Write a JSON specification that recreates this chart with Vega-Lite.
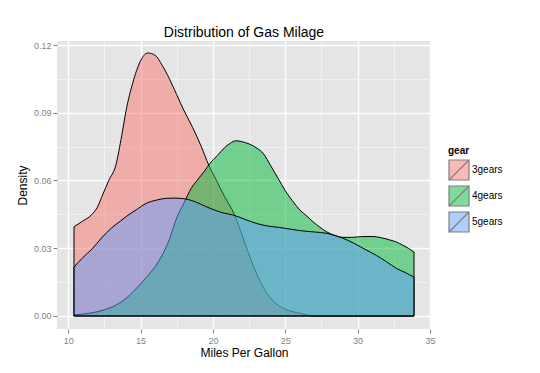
{
  "$schema": "https://vega.github.io/schema/vega-lite/v6.json",
  "autosize": {"type": "none"},
  "padding": {"left": 57, "top": 41, "right": 109, "bottom": 44},
  "width": 374,
  "height": 288,
  "title": {"text": "Distribution of Gas Milage", "fontSize": 14, "fontWeight": "normal", "color": "#000000", "anchor": "middle", "frame": "group", "offset": 1},
  "data": {"values": [
    {"gear": "3gears", "mpg": 10.4, "density": 0.0395},
    {"gear": "3gears", "mpg": 11.0, "density": 0.042},
    {"gear": "3gears", "mpg": 11.6, "density": 0.0447},
    {"gear": "3gears", "mpg": 12.0, "density": 0.048},
    {"gear": "3gears", "mpg": 12.4, "density": 0.054},
    {"gear": "3gears", "mpg": 12.8, "density": 0.060},
    {"gear": "3gears", "mpg": 13.3, "density": 0.067},
    {"gear": "3gears", "mpg": 13.7, "density": 0.080},
    {"gear": "3gears", "mpg": 14.0, "density": 0.091},
    {"gear": "3gears", "mpg": 14.45, "density": 0.103},
    {"gear": "3gears", "mpg": 15.0, "density": 0.113},
    {"gear": "3gears", "mpg": 15.5, "density": 0.1165},
    {"gear": "3gears", "mpg": 16.0, "density": 0.1155},
    {"gear": "3gears", "mpg": 16.5, "density": 0.111},
    {"gear": "3gears", "mpg": 17.0, "density": 0.105},
    {"gear": "3gears", "mpg": 17.5, "density": 0.098},
    {"gear": "3gears", "mpg": 18.0, "density": 0.091},
    {"gear": "3gears", "mpg": 18.6, "density": 0.0835},
    {"gear": "3gears", "mpg": 19.2, "density": 0.075},
    {"gear": "3gears", "mpg": 19.7, "density": 0.067},
    {"gear": "3gears", "mpg": 20.25, "density": 0.060},
    {"gear": "3gears", "mpg": 20.8, "density": 0.053},
    {"gear": "3gears", "mpg": 21.5, "density": 0.0447},
    {"gear": "3gears", "mpg": 21.9, "density": 0.038},
    {"gear": "3gears", "mpg": 22.3, "density": 0.0307},
    {"gear": "3gears", "mpg": 22.65, "density": 0.0245},
    {"gear": "3gears", "mpg": 23.0, "density": 0.019},
    {"gear": "3gears", "mpg": 23.45, "density": 0.013},
    {"gear": "3gears", "mpg": 23.9, "density": 0.0085},
    {"gear": "3gears", "mpg": 24.5, "density": 0.0048},
    {"gear": "3gears", "mpg": 25.1, "density": 0.0027},
    {"gear": "3gears", "mpg": 26.0, "density": 0.0012},
    {"gear": "3gears", "mpg": 26.5, "density": 0.0004},
    {"gear": "3gears", "mpg": 27.0, "density": 0},
    {"gear": "3gears", "mpg": 30.0, "density": 0},
    {"gear": "3gears", "mpg": 33.9, "density": 0},
    {"gear": "4gears", "mpg": 10.4, "density": 0.0005},
    {"gear": "4gears", "mpg": 11.5, "density": 0.0012},
    {"gear": "4gears", "mpg": 12.5, "density": 0.0027},
    {"gear": "4gears", "mpg": 13.3, "density": 0.0048},
    {"gear": "4gears", "mpg": 14.0, "density": 0.0078},
    {"gear": "4gears", "mpg": 14.5, "density": 0.0108},
    {"gear": "4gears", "mpg": 15.0, "density": 0.0142},
    {"gear": "4gears", "mpg": 15.5, "density": 0.0178},
    {"gear": "4gears", "mpg": 16.0, "density": 0.0218},
    {"gear": "4gears", "mpg": 16.5, "density": 0.027},
    {"gear": "4gears", "mpg": 17.0, "density": 0.034},
    {"gear": "4gears", "mpg": 17.5, "density": 0.0435},
    {"gear": "4gears", "mpg": 18.0, "density": 0.050},
    {"gear": "4gears", "mpg": 18.5, "density": 0.0565},
    {"gear": "4gears", "mpg": 18.9, "density": 0.060},
    {"gear": "4gears", "mpg": 19.4, "density": 0.064},
    {"gear": "4gears", "mpg": 19.8, "density": 0.0676},
    {"gear": "4gears", "mpg": 20.3, "density": 0.071},
    {"gear": "4gears", "mpg": 20.8, "density": 0.0745},
    {"gear": "4gears", "mpg": 21.2, "density": 0.0765},
    {"gear": "4gears", "mpg": 21.6, "density": 0.0776},
    {"gear": "4gears", "mpg": 22.0, "density": 0.0772},
    {"gear": "4gears", "mpg": 22.5, "density": 0.0762},
    {"gear": "4gears", "mpg": 23.0, "density": 0.0745},
    {"gear": "4gears", "mpg": 23.5, "density": 0.0718},
    {"gear": "4gears", "mpg": 24.0, "density": 0.0665},
    {"gear": "4gears", "mpg": 24.5, "density": 0.061},
    {"gear": "4gears", "mpg": 25.0, "density": 0.0555},
    {"gear": "4gears", "mpg": 25.5, "density": 0.051},
    {"gear": "4gears", "mpg": 26.0, "density": 0.047},
    {"gear": "4gears", "mpg": 26.5, "density": 0.0442},
    {"gear": "4gears", "mpg": 26.9, "density": 0.0418},
    {"gear": "4gears", "mpg": 27.4, "density": 0.0393},
    {"gear": "4gears", "mpg": 27.85, "density": 0.0373},
    {"gear": "4gears", "mpg": 28.4, "density": 0.0357},
    {"gear": "4gears", "mpg": 29.0, "density": 0.0348},
    {"gear": "4gears", "mpg": 29.6, "density": 0.0348},
    {"gear": "4gears", "mpg": 30.2, "density": 0.0351},
    {"gear": "4gears", "mpg": 31.0, "density": 0.0352},
    {"gear": "4gears", "mpg": 31.6, "density": 0.0347},
    {"gear": "4gears", "mpg": 32.2, "density": 0.0337},
    {"gear": "4gears", "mpg": 32.7, "density": 0.0327},
    {"gear": "4gears", "mpg": 33.1, "density": 0.0314},
    {"gear": "4gears", "mpg": 33.5, "density": 0.0300},
    {"gear": "4gears", "mpg": 33.9, "density": 0.0283},
    {"gear": "5gears", "mpg": 10.4, "density": 0.0216},
    {"gear": "5gears", "mpg": 11.0, "density": 0.0258},
    {"gear": "5gears", "mpg": 11.7, "density": 0.030},
    {"gear": "5gears", "mpg": 12.3, "density": 0.0345},
    {"gear": "5gears", "mpg": 13.0, "density": 0.039},
    {"gear": "5gears", "mpg": 13.5, "density": 0.0415},
    {"gear": "5gears", "mpg": 14.0, "density": 0.044},
    {"gear": "5gears", "mpg": 14.7, "density": 0.047},
    {"gear": "5gears", "mpg": 15.4, "density": 0.0499},
    {"gear": "5gears", "mpg": 16.1, "density": 0.0513},
    {"gear": "5gears", "mpg": 16.8, "density": 0.0521},
    {"gear": "5gears", "mpg": 17.4, "density": 0.0522},
    {"gear": "5gears", "mpg": 18.2, "density": 0.0517},
    {"gear": "5gears", "mpg": 18.8, "density": 0.0505},
    {"gear": "5gears", "mpg": 19.5, "density": 0.0485},
    {"gear": "5gears", "mpg": 20.2, "density": 0.0467},
    {"gear": "5gears", "mpg": 20.8, "density": 0.0455},
    {"gear": "5gears", "mpg": 21.4, "density": 0.0447},
    {"gear": "5gears", "mpg": 22.2, "density": 0.0428},
    {"gear": "5gears", "mpg": 23.0, "density": 0.041},
    {"gear": "5gears", "mpg": 23.8, "density": 0.0398},
    {"gear": "5gears", "mpg": 24.6, "density": 0.0392},
    {"gear": "5gears", "mpg": 25.3, "density": 0.0385},
    {"gear": "5gears", "mpg": 26.0, "density": 0.0378},
    {"gear": "5gears", "mpg": 27.0, "density": 0.0372},
    {"gear": "5gears", "mpg": 27.85, "density": 0.0366},
    {"gear": "5gears", "mpg": 28.5, "density": 0.0355},
    {"gear": "5gears", "mpg": 29.0, "density": 0.0344},
    {"gear": "5gears", "mpg": 29.8, "density": 0.032},
    {"gear": "5gears", "mpg": 30.6, "density": 0.0292},
    {"gear": "5gears", "mpg": 31.3, "density": 0.0268},
    {"gear": "5gears", "mpg": 32.0, "density": 0.024},
    {"gear": "5gears", "mpg": 32.7, "density": 0.021},
    {"gear": "5gears", "mpg": 33.3, "density": 0.0192},
    {"gear": "5gears", "mpg": 33.9, "density": 0.0172}
  ]},
  "layer": [
    {
      "mark": {"type": "point", "opacity": 0},
      "encoding": {
        "x": {"field": "mpg", "type": "quantitative", "scale": {"domain": [9.225, 35.075], "nice": false, "zero": false},
              "axis": {"orient": "top", "values": [12.5, 17.5, 22.5, 27.5, 32.5], "grid": true, "gridColor": "#F2F2F2", "gridWidth": 1, "labels": false, "ticks": false, "domain": false, "title": null}},
        "y": {"field": "density", "type": "quantitative", "scale": {"domain": [-0.0058, 0.1218], "nice": false, "zero": false},
              "axis": {"orient": "right", "values": [0.015, 0.045, 0.075, 0.105], "grid": true, "gridColor": "#F2F2F2", "gridWidth": 1, "labels": false, "ticks": false, "domain": false, "title": null}}
      }
    },
    {
      "mark": {"type": "area", "interpolate": "monotone", "fillOpacity": 0.5, "stroke": "#000000", "strokeWidth": 1, "strokeOpacity": 1},
      "encoding": {
        "x": {"field": "mpg", "type": "quantitative",
              "axis": {"orient": "bottom", "values": [10, 15, 20, 25, 30, 35], "title": "Miles Per Gallon", "grid": true, "gridColor": "#FFFFFF", "gridWidth": 1.4, "domain": false, "tickColor": "#7F7F7F", "tickSize": 4, "labelColor": "#7F7F7F", "labelFontSize": 9, "labelPadding": 3, "titleFontSize": 12, "titleFontWeight": "normal", "titleColor": "#000000", "titlePadding": 2}},
        "y": {"field": "density", "type": "quantitative", "stack": null,
              "axis": {"orient": "left", "values": [0, 0.03, 0.06, 0.09, 0.12], "format": ".2f", "title": "Density", "grid": true, "gridColor": "#FFFFFF", "gridWidth": 1.4, "domain": false, "tickColor": "#7F7F7F", "tickSize": 4, "labelColor": "#7F7F7F", "labelFontSize": 9, "labelPadding": 2, "titleFontSize": 12, "titleFontWeight": "normal", "titleColor": "#000000", "titlePadding": 4}},
        "color": {"field": "gear", "type": "nominal",
                  "scale": {"domain": ["3gears", "4gears", "5gears"], "range": ["#F8766D", "#00BA38", "#619CFF"]},
                  "legend": {"orient": "none", "legendX": 391, "legendY": 105, "title": "gear", "titleFontSize": 10, "titleFontWeight": "bold", "titleColor": "#000000", "titlePadding": 3, "labelFontSize": 10, "labelColor": "#000000", "labelOffset": 2, "rowPadding": 0, "symbolType": "M-1,-1H1V1H-1Z M-1,1L1,-1", "symbolSize": 400, "symbolStrokeWidth": 1.2, "symbolStrokeColor": "#000000", "symbolOpacity": 0.5}}
      }
    }
  ],
  "resolve": {"axis": {"x": "independent", "y": "independent"}},
  "config": {
    "font": "Liberation Sans",
    "view": {"fill": "#E5E5E5", "stroke": null}
  }
}
